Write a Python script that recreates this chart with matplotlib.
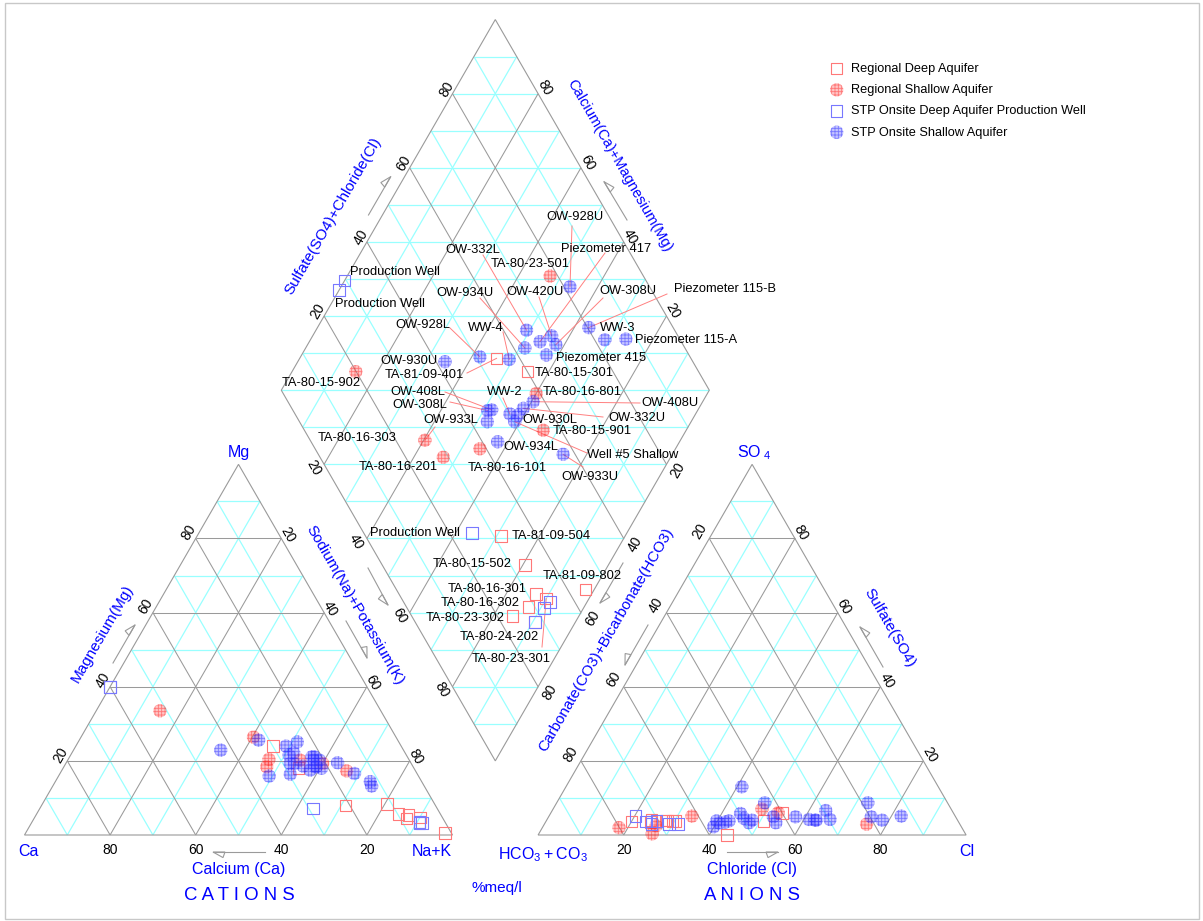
import numpy as np
import matplotlib.pyplot as plt
from matplotlib.patches import Polygon, Rectangle

plt.rcParams['font.family'] = ['Liberation Sans', 'DejaVu Sans']
plt.rcParams['hatch.linewidth'] = 0.6
plt.rcParams['mathtext.default'] = 'regular'

# ---- data, % meq/l: Na+K and Mg (Ca is the rest), Cl and SO4 (HCO3+CO3 is the rest)
# Regional Deep Aquifer
rd_names = ['TA-81-09-401', 'TA-80-15-301', 'TA-81-09-504', 'TA-80-15-502', 'TA-81-09-802',
            'TA-80-16-301', 'TA-80-23-301', 'TA-80-16-302', 'TA-80-23-302', 'TA-80-24-202']
rd_nak = [46, 55, 71, 80.5, 98, 87, 90, 87, 84.5, 90.5]
rd_mg = [24, 18, 8, 8.3, 0.5, 5.4, 4.7, 4.5, 5.7, 3.5]
rd_cl = [50.8, 54, 27.8, 29.5, 44.2, 28.1, 30.1, 24.5, 20, 24.5]
rd_so4 = [3.8, 6, 3.9, 3.8, 0, 3.9, 3.7, 4, 3.6, 3.5]

# Regional Shallow Aquifer
rs_names = ['TA-80-23-501', 'TA-80-15-902', 'TA-80-16-801', 'TA-80-15-901',
            'TA-80-16-303', 'TA-80-16-201', 'TA-80-16-101']
rs_nak = [47.4, 14.9, 60, 66.6, 40.3, 46.9, 54.3]
rs_mg = [18.4, 33.5, 19.3, 17.3, 26.4, 20.4, 20.2]
rs_cl = [75.3, 17.9, 53.1, 48.8, 26.5, 26.3, 33.4]
rs_so4 = [2.9, 2, 6, 7, 0.3, 2.5, 5.1]

# STP Onsite Deep Aquifer Production Well
sd_names = ['Production Well', 'Production Well', 'Production Well', '', '', '']
sd_nak = [0, 0, 63.8, 91.3, 90.7, 90.5]
sd_mg = [40, 40, 7.2, 3.2, 3.2, 3.5]
sd_cl = [25.8, 23.4, 20.2, 31.3, 29.1, 25]
sd_so4 = [3.8, 3.6, 5.1, 2.9, 2.9, 3]

# STP Onsite Shallow Aquifer
ss_names = ['OW-928U', 'Piezometer 115-B', 'WW-3', 'Piezometer 115-A', 'OW-332L',
            'Piezometer 417', 'OW-420U', 'OW-308U', 'OW-934U', 'Piezometer 415',
            'OW-928L', 'WW-4', 'OW-930U', 'OW-408U', 'OW-332U', 'OW-930L', 'WW-2',
            'Well #5 Shallow', 'OW-408L', 'OW-308L', 'OW-933L', 'OW-934L', 'OW-933U']
ss_nak = [53.5, 63.4, 68.8, 73.6, 49.2, 53.9, 55.8, 58, 51.2, 57.2, 41.9, 49.1,
          34.4, 60.4, 59, 58.7, 56.6, 58.8, 51.8, 51, 52.4, 57.5, 74.5]
ss_mg = [19.3, 19.5, 16.6, 14.4, 15.9, 16.4, 18.6, 17.5, 25.1, 21.1, 25.6, 24,
         22.9, 18, 18.4, 18.4, 21.1, 20.2, 22.2, 21.6, 19.3, 20.2, 13.2]
ss_cl = [72.7, 75.4, 78.4, 82.3, 61.2, 63, 63.9, 66.1, 57.7, 62.7, 47.6, 52.5,
         39.9, 48.6, 41.1, 48, 44.4, 45.8, 42.7, 42, 40.7, 39.8, 53.9]
ss_so4 = [8.7, 4.9, 4, 5.1, 4.2, 4, 6.6, 4.2, 4.9, 4, 3.3, 4.9,
          2.2, 8.7, 13, 4, 5.8, 4.5, 3.8, 3.5, 3.2, 3.8, 3.3]

# label placement in the diamond (pixel centre of text, start of leader line or None)
rd_label_at = [(424, 375, (467, 373)), (574, 373, None), (551, 536, None), (472, 564, None),
               (582, 576, None), (487, 589, None), (511, 659, (542, 647)), (480, 603, None),
               (465, 618, None), (499, 637, None)]
rs_label_at = [(530, 264, None), (321, 383, None), (582, 392, None), (592, 431, None),
               (357, 438, (435, 427)), (398, 467, None), (507, 468, None)]
sd_label_at = [(395, 272, None), (380, 304, None), (415, 533, None), None, None, None]
ss_label_at = [(575, 217, (572, 226)), (725, 289, (667, 294)), (618, 328, None),
               (686, 340, None), (473, 250, (483, 255)), (606, 249, (605, 253)),
               (535, 292, (539, 297)), (628, 291, (603, 298)), (465, 293, (480, 298)),
               (601, 358, None), (423, 325, (450, 328)), (486, 328, (503, 332)),
               (409, 361, None), (670, 403, (640, 403)), (637, 418, (603, 417)),
               (550, 420, None), (505, 392, (503, 398)), (633, 455, (587, 453)),
               (418, 392, (445, 392)), (420, 405, (450, 402)), (451, 420, None),
               (531, 447, None), (590, 477, (583, 467))]

# ---- geometry
S = 428.0            # triangle side in pixels
OX, OY = 24.5, 835   # pixel position of the Ca corner
G = 0.2              # gap between the triangles (in sides)
H = np.sqrt(3) / 2
GRAY = '#9a9a9a'
CYAN = '#99ffff'
BLUE = '#0000ff'


def P(x, y):  # pixel -> data
    return (x - OX) / S, (OY - y) / S


def cat_xy(nak, mg):
    nak, mg = np.asarray(nak) / 100, np.asarray(mg) / 100
    return nak + mg / 2, mg * H


def an_xy(cl, so4):
    cl, so4 = np.asarray(cl) / 100, np.asarray(so4) / 100
    return 1 + G + cl + so4 / 2, so4 * H


dB = np.array([1 + G / 2, G * H])
dL = dB + np.array([-0.5, H])
dR = dB + np.array([0.5, H])
dT = dB + np.array([0, 2 * H])


def dia_xy(nak, cl, so4):
    p = 1 - np.asarray(nak) / 100
    q = (np.asarray(cl) + np.asarray(so4)) / 100
    return dB[0] + (q - p) / 2, dB[1] + H * (p + q)


fig = plt.figure(figsize=(12.03, 9.21), dpi=100)
ax = fig.add_axes([0, 0, 1, 1])
ax.set_xlim(-OX / S, (1203 - OX) / S)
ax.set_ylim(-(921 - OY) / S, OY / S)
ax.axis('off')
fig.patches.append(Rectangle((5 / 1203, 2 / 921), 1194 / 1203, 916 / 921,
                             transform=fig.transFigure, fill=False, ec='#c8c8c8', lw=1))


def seg(a, b, c, z):
    ax.plot([a[0], b[0]], [a[1], b[1]], color=c, lw=0.9 if c == CYAN else 0.75,
            zorder=z, solid_capstyle='butt')


def tri_grid(v):
    v = [np.array(p, float) for p in v]
    for k in range(1, 10):
        f = k / 10
        c = GRAY if k % 2 == 0 else CYAN
        for i in range(3):
            j, m = [t for t in range(3) if t != i]
            seg(f * v[i] + (1 - f) * v[j], f * v[i] + (1 - f) * v[m], c, 1.2 if c == GRAY else 1)
    ax.add_patch(Polygon(v, closed=True, fill=False, ec=GRAY, lw=0.8, zorder=1.3))


def dia_grid():
    u, w = dL - dB, dR - dB
    for k in range(1, 20):
        s = k / 10
        if s <= 1:
            seg(dB + s * u, dB + s * w, CYAN, 1)
        else:
            seg(dB + u + (s - 1) * w, dB + w + (s - 1) * u, CYAN, 1)
    for k in range(1, 10):
        f = k / 10
        c = GRAY if k % 2 == 0 else CYAN
        z = 1.2 if c == GRAY else 1
        seg(dB + f * u, dB + f * u + w, c, z)
        seg(dB + f * w, dB + f * w + u, c, z)
    ax.add_patch(Polygon([dB, dR, dT, dL], closed=True, fill=False, ec=GRAY, lw=0.8, zorder=1.3))


cat_v = [(0, 0), (1, 0), (0.5, H)]
an_v = [(1 + G, 0), (2 + G, 0), (1.5 + G, H)]
tri_grid(cat_v)
tri_grid(an_v)
dia_grid()


# ---- tick labels
def tick(pt, txt, off, rot):
    ax.annotate(txt, pt, xytext=off, textcoords='offset pixels', ha='center', va='center',
                rotation=rot, fontsize=10, rotation_mode='anchor')


for k in (20, 40, 60, 80):
    f = k / 100
    tick((0.5 * f, H * f), str(k), (-7, 6), 60)
    tick((1 - 0.5 * f, H * f), str(100 - k), (6, 4), -60)
    tick((f, 0), str(100 - k), (0, -15), 0)
    tick((1 + G + 0.5 * f, H * f), str(100 - k), (-10, 7), 60)
    tick((2 + G - 0.5 * f, H * f), str(k), (6, 6), -60)
    tick((1 + G + f, 0), str(k), (0, -15), 0)
    tick(dL + f * (dB - dL), str(k), (-10.5, -3), -60)
    tick(dL + f * (dT - dL), str(k), (-6, 4.5), 60)
    tick(dR + f * (dT - dR), str(k), (6.5, 5.5), -60)
    tick(dR + f * (dB - dR), str(k), (11.5, -6), 60)


# ---- axis titles
def btext(x, y, s, rot=0, size=11.5):
    ax.text(*P(x, y), s, color=BLUE, fontsize=size, rotation=rot, ha='center', va='center',
            rotation_mode='anchor')


btext(238.5, 452, 'Mg')
btext(28, 851, 'Ca')
btext(432, 851, 'Na+K')
btext(543, 855, r'$\mathregular{HCO_3+CO_3}$')
btext(967, 851, 'Cl')
btext(754, 453, r'$\mathregular{SO_{\ 4}}$')
btext(239, 869, 'Calcium (Ca)')
btext(752.5, 869, 'Chloride (Cl)')
btext(239, 895, 'C A T I O N S', size=13.4)
btext(752, 895, 'A N I O N S', size=13.4)
btext(497, 888, '%meq/l', size=11)
btext(102, 634, 'Magnesium(Mg)', 60, 11)
btext(355, 605, 'Sodium(Na)+Potassium(K)', -60, 11)
btext(333, 216, 'Sulfate(SO4)+Chloride(Cl)', 60, 11)
btext(619, 166, 'Calcium(Ca)+Magnesium(Mg)', -60, 10.5)
btext(606, 640, 'Carbonate(CO3)+Bicarbonate(HCO3)', 60, 11)
btext(890, 628, 'Sulfate(SO4)', -60, 11)


def harrow(x0, y0, x1, y1, side):
    a, b = np.array(P(x0, y0)), np.array(P(x1, y1))
    d = (b - a) / np.hypot(*(b - a))
    n = np.array([-d[1], d[0]]) * side
    ax.plot([a[0], b[0]], [a[1], b[1]], color=GRAY, lw=0.8)
    ax.add_patch(Polygon([b, b - d * 12 / S, b - d * 10 / S + n * 5.6 / S], closed=True,
                         fill=False, ec=GRAY, lw=0.8))


harrow(265, 852, 213, 852, 1)
harrow(727, 852, 778, 852, -1)
harrow(113, 663, 135, 625, 1)
harrow(368.5, 215, 390.7, 176.7, 1)
harrow(627, 220, 604, 181.7, -1)
harrow(368, 568, 388, 605, -1)
harrow(346, 621, 367, 658, 1)
harrow(623, 563, 600, 603, 1)
harrow(648, 625, 625, 665, -1)
harrow(883, 667, 860, 627, -1)

# ---- samples
groups = [
    ('Regional Deep Aquifer', rd_names, rd_nak, rd_mg, rd_cl, rd_so4, rd_label_at,
     dict(marker='s', s=70, facecolors='none', edgecolors='#ff7878', linewidths=0.8)),
    ('Regional Shallow Aquifer', rs_names, rs_nak, rs_mg, rs_cl, rs_so4, rs_label_at,
     dict(marker='o', s=92, facecolors=(1, 0.35, 0.35, 0.35), edgecolors=(1, 0.1, 0.1, 0.45),
          linewidths=0, hatch='+++++')),
    ('STP Onsite Deep Aquifer Production Well', sd_names, sd_nak, sd_mg, sd_cl, sd_so4, sd_label_at,
     dict(marker='s', s=70, facecolors='none', edgecolors='#7878ff', linewidths=0.8)),
    ('STP Onsite Shallow Aquifer', ss_names, ss_nak, ss_mg, ss_cl, ss_so4, ss_label_at,
     dict(marker='o', s=92, facecolors=(0.35, 0.35, 1, 0.35), edgecolors=(0.1, 0.1, 1, 0.45),
          linewidths=0, hatch='+++++')),
]

handles = []
for name, names, nak, mg, cl, so4, label_at, style in groups:
    h = ax.scatter(*cat_xy(nak, mg), zorder=3, **style)
    ax.scatter(*an_xy(cl, so4), zorder=3, **style)
    dx, dy = dia_xy(nak, cl, so4)
    ax.scatter(dx, dy, zorder=3, **style)
    handles.append(h)
    for lab, pos, x, y in zip(names, label_at, dx, dy):
        if pos is None:
            continue
        tx, ty, lead = pos
        if lead is not None:
            lx, ly = P(*lead)
            ax.plot([lx, x], [ly, y], color='#ff8080', lw=0.7, zorder=2)
        ax.text(*P(tx, ty), lab, fontsize=9.3, ha='center', va='center', zorder=4)

ax.legend(handles, [g[0] for g in groups], loc='upper left',
          bbox_to_anchor=(829 / 1203, 1 - 63 / 921), bbox_transform=fig.transFigure,
          frameon=False, fontsize=9.2, handlelength=1.2, handletextpad=0.5,
          labelspacing=0.72, borderpad=0, borderaxespad=0, scatterpoints=1)

fig.savefig('out.png', dpi=100)
